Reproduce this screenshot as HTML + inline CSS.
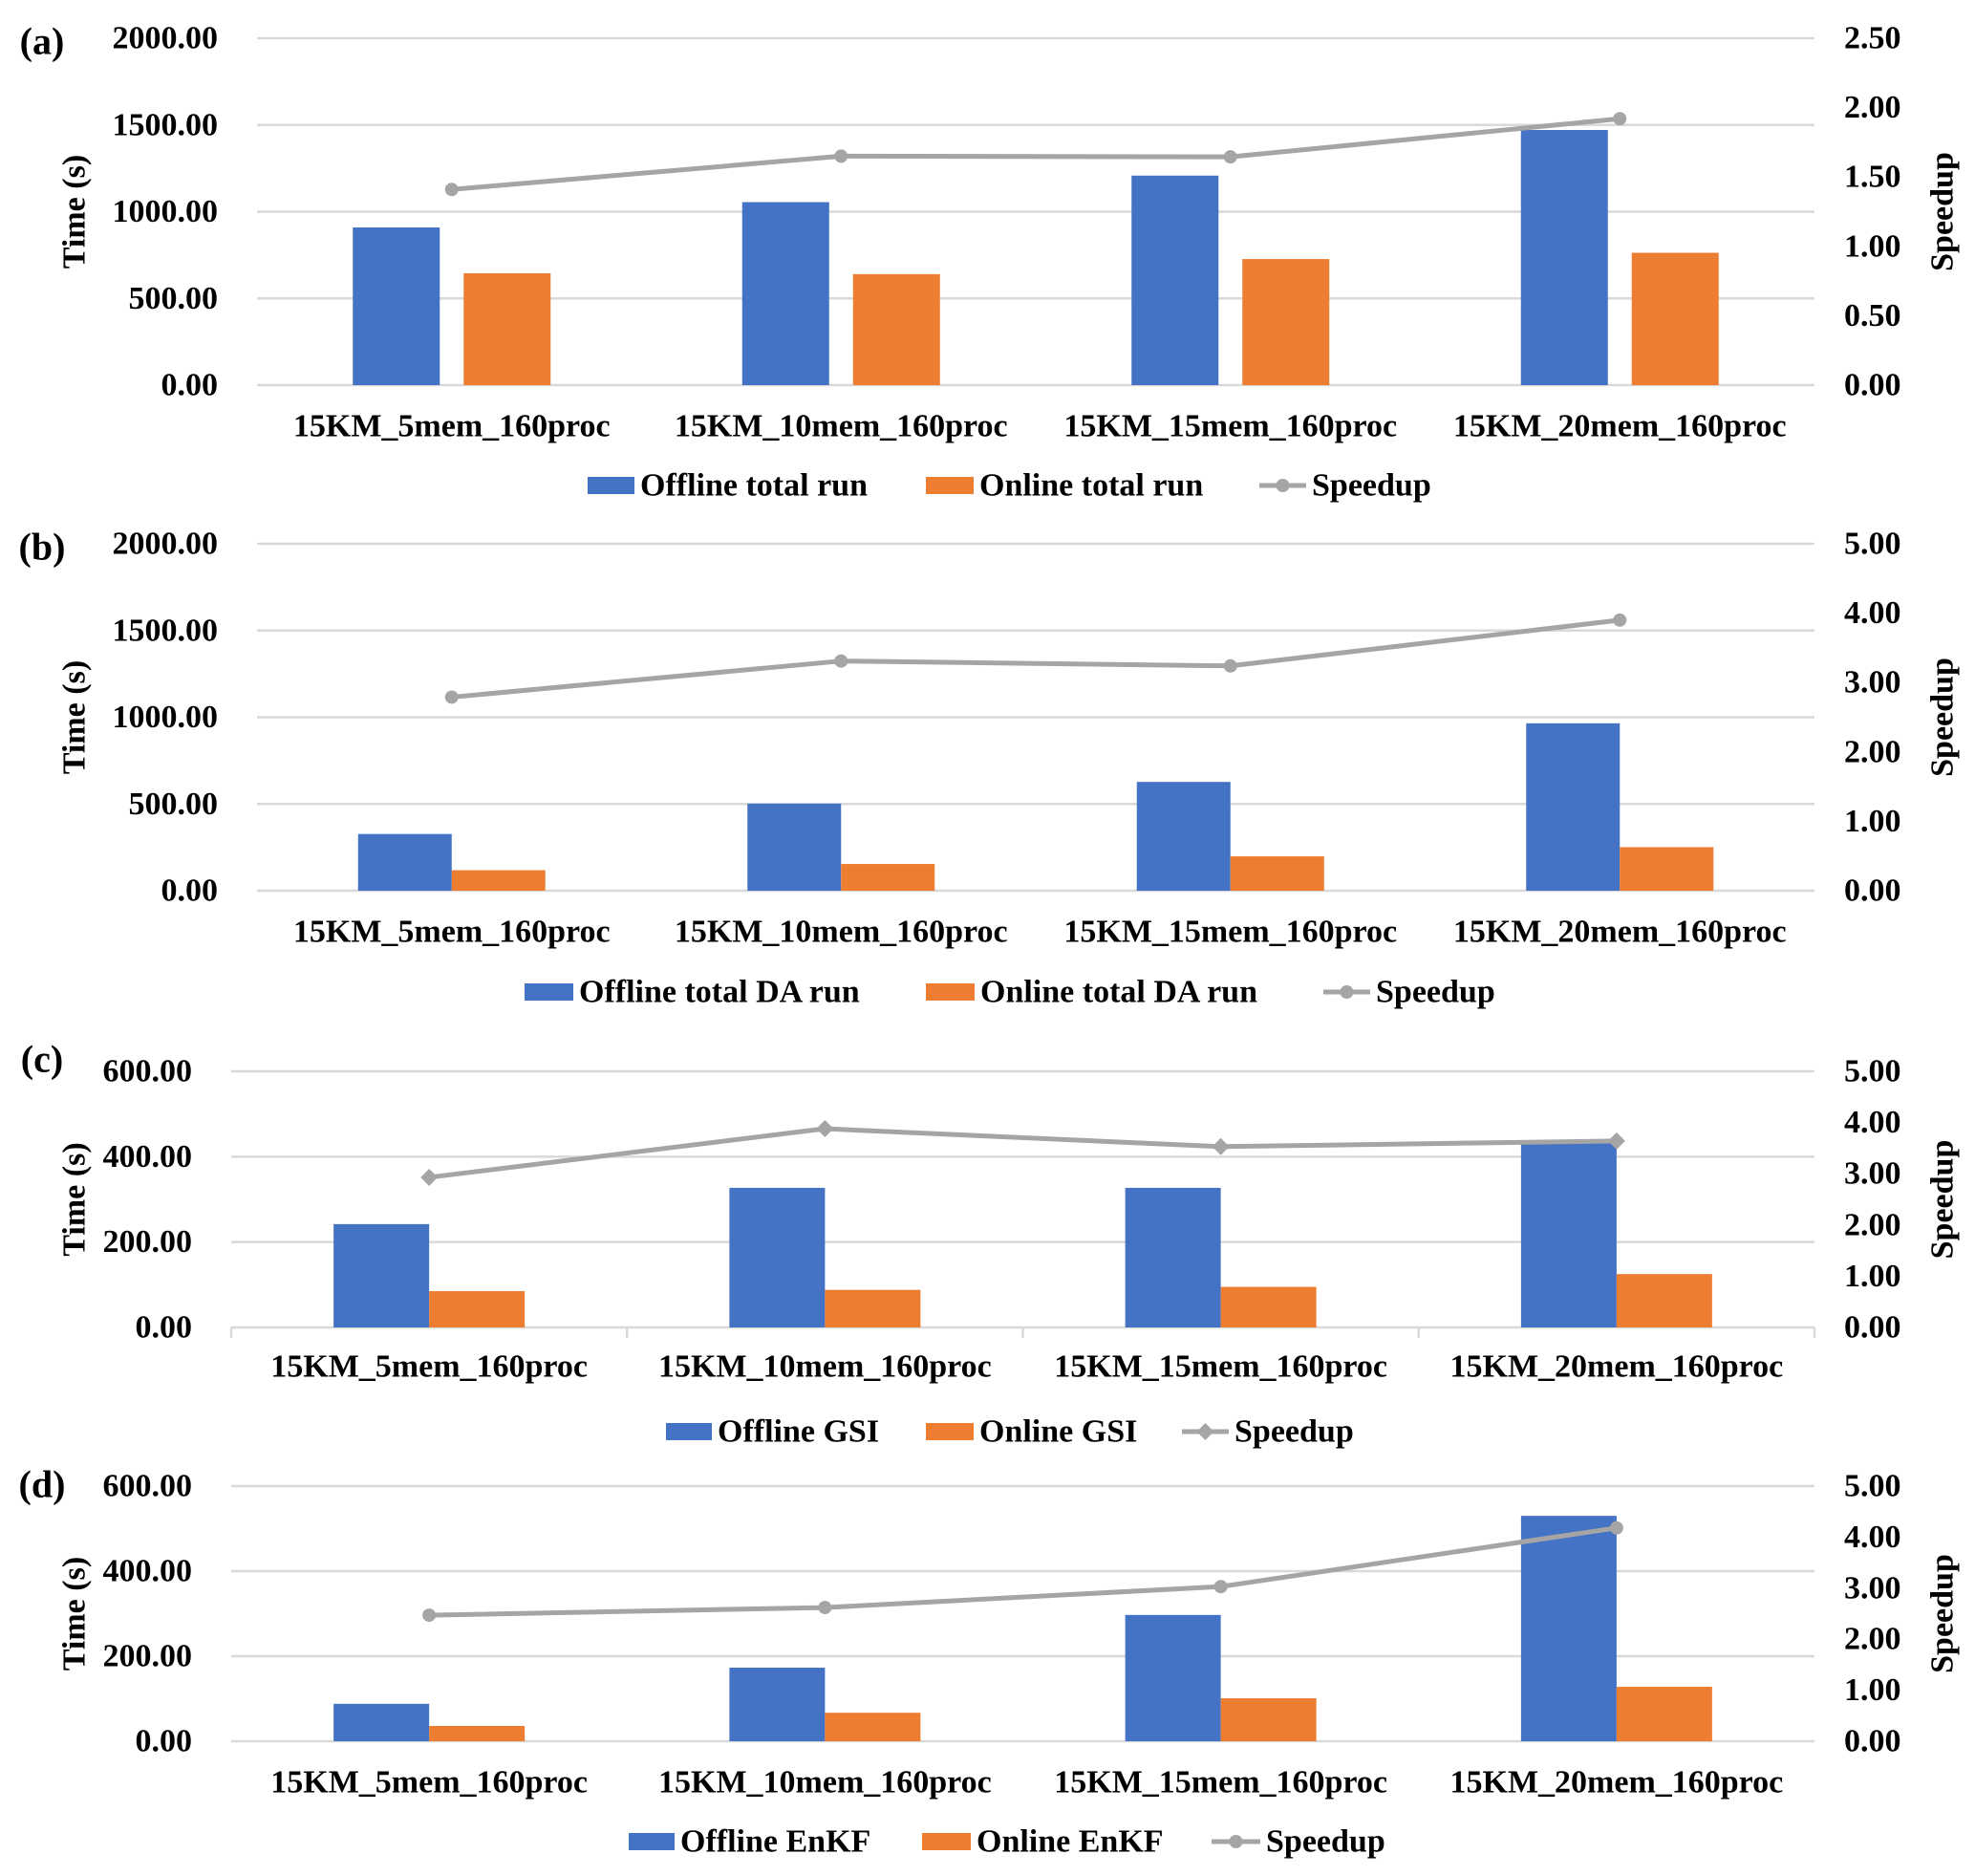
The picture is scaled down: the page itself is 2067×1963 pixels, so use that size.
<!DOCTYPE html>
<html><head><meta charset="utf-8"><style>
html,body{margin:0;padding:0;background:#fff;}
svg{display:block;font-family:"Liberation Serif",serif;font-weight:bold;}
</style></head><body>
<svg id="fig" width="2067" height="1963" viewBox="0 0 2067 1963" xmlns="http://www.w3.org/2000/svg"></svg>
<script>
const categories = ["15KM_5mem_160proc","15KM_10mem_160proc","15KM_15mem_160proc","15KM_20mem_160proc"];
const aOffline = [909, 1055, 1208, 1471];
const aOnline = [645, 640, 727, 763];
const aSpeedup = [1.41, 1.65, 1.645, 1.92];
const bOffline = [327, 502, 627, 965];
const bOnline = [118, 154, 198, 251];
const bSpeedup = [2.79, 3.31, 3.24, 3.90];
const cOffline = [242, 327, 327, 432];
const cOnline = [85, 88, 95, 125];
const cSpeedup = [2.93, 3.88, 3.53, 3.64];
const dOffline = [88, 173, 297, 530];
const dOnline = [36, 67, 101, 128];
const dSpeedup = [2.47, 2.62, 3.03, 4.18];
const aLeftTicks = ["0.00","500.00","1000.00","1500.00","2000.00"];
const aRightTicks = ["0.00","0.50","1.00","1.50","2.00","2.50"];
const bLeftTicks = ["0.00","500.00","1000.00","1500.00","2000.00"];
const bRightTicks = ["0.00","1.00","2.00","3.00","4.00","5.00"];
const cLeftTicks = ["0.00","200.00","400.00","600.00"];
const cRightTicks = ["0.00","1.00","2.00","3.00","4.00","5.00"];
const dLeftTicks = cLeftTicks;
const dRightTicks = cRightTicks;

const NS="http://www.w3.org/2000/svg";
const svg=document.getElementById('fig');
function mk(tag,attrs,parent){const e=document.createElementNS(NS,tag);for(const k in attrs)e.setAttribute(k,attrs[k]);(parent||svg).appendChild(e);return e;}
function txt(s,x,y,size,anchor,parent,rot){const t=mk('text',{x:x,y:y,'font-size':size,'text-anchor':anchor||'middle','dominant-baseline':'central',fill:'#000'},parent);if(rot)t.setAttribute('transform','rotate(-90 '+x+' '+y+')');t.textContent=s;return t;}

const panels=[
 {id:'a',label:'(a)',off:aOffline,on:aOnline,sp:aSpeedup,lt:aLeftTicks,rt:aRightTicks,left:269,right:1899,top:40,bot:403,lmax:2000,rmax:2.5,barW:91,gap:25,ticks:false,ltx:228,catY:446,legY:508,labY:43,diamond:false,
  leg:[['Offline total run',615,670],['Online total run',969,1025],['Speedup',1318,1373]]},
 {id:'b',label:'(b)',off:bOffline,on:bOnline,sp:bSpeedup,lt:bLeftTicks,rt:bRightTicks,left:269,right:1899,top:569,bot:932,lmax:2000,rmax:5,barW:98,gap:0,ticks:false,ltx:228,catY:975,legY:1038,labY:572,diamond:false,
  leg:[['Offline total DA run',549,606],['Online total DA run',969,1026],['Speedup',1385,1440]]},
 {id:'c',label:'(c)',off:cOffline,on:cOnline,sp:cSpeedup,lt:cLeftTicks,rt:cRightTicks,left:242,right:1899,top:1121,bot:1389,lmax:600,rmax:5,barW:100,gap:0,ticks:true,ltx:201,catY:1430,legY:1498,labY:1108,diamond:true,
  leg:[['Offline GSI',697,751],['Online GSI',969,1025],['Speedup',1237,1292]]},
 {id:'d',label:'(d)',off:dOffline,on:dOnline,sp:dSpeedup,lt:dLeftTicks,rt:dRightTicks,left:242,right:1899,top:1555,bot:1822,lmax:600,rmax:5,barW:100,gap:0,ticks:false,ltx:201,catY:1865,legY:1927,labY:1553,diamond:false,
  leg:[['Offline EnKF',658,712],['Online EnKF',965,1022],['Speedup',1268,1325]]}
];

function marker(g,x,y,diamond,r){
  if(diamond){return mk('polygon',{points:(x)+','+(y-r-2)+' '+(x+r+2)+','+y+' '+x+','+(y+r+2)+' '+(x-r-2)+','+y,fill:'#a5a5a5'},g);}
  return mk('circle',{cx:x,cy:y,r:r,fill:'#a5a5a5'},g);
}

panels.forEach(p=>{
  const g=mk('g',{});
  
  
  const yL=v=>p.bot-(v/p.lmax)*(p.bot-p.top);
  const yR=v=>p.bot-(v/p.rmax)*(p.bot-p.top);
  const cw=(p.right-p.left)/categories.length;
  const xC=i=>p.left+(i+0.5)*cw;
  const pl=txt(p.label,44,p.labY,40,'middle',g);
  
  
  // gridlines and left ticks
  p.lt.forEach((t,i)=>{
    const v=parseFloat(t);const y=yL(v);
    const gl=mk('line',{x1:p.left,x2:p.right,y1:y,y2:y,stroke:'#d9d9d9','stroke-width':2.5},g);
    
    
    const tl=txt(t,p.ltx,y,34,'end',g);
    
    
  });
  p.rt.forEach(t=>{
    const tr=txt(t,1930,yR(parseFloat(t)),34,'start',g);
    
    
  });
  if(p.ticks){
    for(let i=0;i<=categories.length;i++){
      const x=p.left+i*cw;
      const tk=mk('line',{x1:x,x2:x,y1:p.bot,y2:p.bot+11,stroke:'#d9d9d9','stroke-width':2.5},g);
      
      
    }
  }
  const mid=(p.top+p.bot)/2;
  const yt=txt('Time (s)',78,mid,34,'middle',g,true);
  
  
  const y2t=txt('Speedup',2033,mid,34,'middle',g,true);
  
  
  // bars
  categories.forEach((c,i)=>{
    const cx=xC(i);
    const bx=cx-p.gap/2-p.barW;
    const b1=mk('rect',{x:bx,y:yL(p.off[i]),width:p.barW,height:p.bot-yL(p.off[i]),fill:'#4472c4'},g);
    
    
    const b2=mk('rect',{x:cx+p.gap/2,y:yL(p.on[i]),width:p.barW,height:p.bot-yL(p.on[i]),fill:'#ed7d31'},g);
    
    
    const cl=txt(c,cx,p.catY,34,'middle',g);
    
    
  });
  // speedup line
  const pts=p.sp.map((v,i)=>xC(i)+','+yR(v)).join(' ');
  const ln=mk('polyline',{points:pts,fill:'none',stroke:'#a5a5a5','stroke-width':5,'stroke-linejoin':'round'},g);
  
  
  p.sp.forEach((v,i)=>{
    const m=marker(g,xC(i),yR(v),p.diamond,7);
    
    
  });
  // legend
  const colors=['#4472c4','#ed7d31'];
  p.leg.forEach((L,k)=>{
    const lg=mk('g',{},g);
    
    
    if(k<2){
      mk('rect',{x:L[1],y:p.legY-9,width:L[2]-L[1]-6,height:18,fill:colors[k]},lg);
    }else{
      mk('line',{x1:L[1],x2:L[2]-6,y1:p.legY,y2:p.legY,stroke:'#a5a5a5','stroke-width':5},lg);
      marker(lg,(L[1]+L[2]-6)/2,p.legY,p.diamond,7);
    }
    txt(L[0],L[2],p.legY,34,'start',lg);
  });
});
</script>
</body></html>
